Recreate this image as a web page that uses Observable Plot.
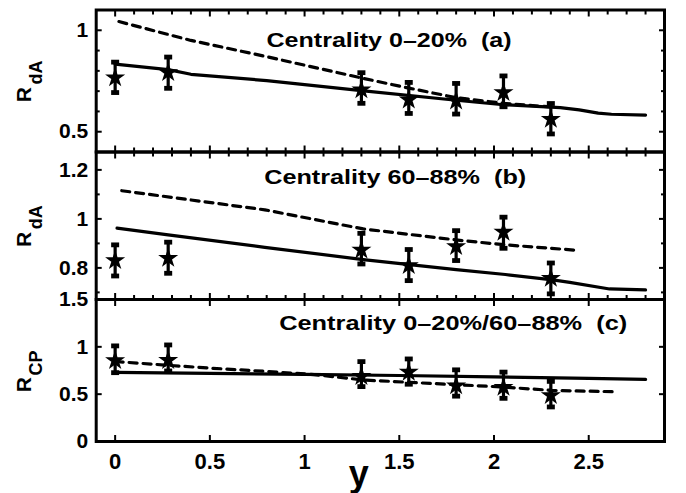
<!DOCTYPE html>
<html><head><meta charset="utf-8">
<script src="https://cdn.jsdelivr.net/npm/d3@7"></script>
<script src="https://cdn.jsdelivr.net/npm/@observablehq/plot@0.6"></script>
<style>
body{margin:0;background:#fff;}
#chart{position:relative;width:686px;height:493px;}
#chart svg{position:absolute;left:0;top:0;overflow:visible;}
</style></head><body><div id="chart"></div>
<script>
// ---- data ----
const rapidity = [0, 0.28, 1.3, 1.55, 1.8, 2.05, 2.3];

// (a) R_dA, centrality 0-20%
const rdaCentral      = [0.766, 0.792, 0.707, 0.657, 0.652, 0.693, 0.562];
const rdaCentralLow   = [0.693, 0.714, 0.640, 0.590, 0.587, 0.623, 0.489];
const rdaCentralHigh  = [0.843, 0.868, 0.791, 0.743, 0.738, 0.775, 0.639];
const solidAx = [0, 0.28, 0.4, 0.8, 1.3, 1.8, 2.05, 2.35, 2.45, 2.55, 2.62, 2.8];
const solidAy = [0.833, 0.806, 0.783, 0.752, 0.703, 0.655, 0.633, 0.619, 0.608, 0.592, 0.586, 0.582];
const dashAx  = [0.02, 0.4, 0.8, 1.3, 1.55, 1.8, 2.05, 2.3];
const dashAy  = [1.043, 0.950, 0.870, 0.765, 0.715, 0.668, 0.640, 0.622];

// (b) R_dA, centrality 60-88%
const rdaPeriph      = [0.830, 0.839, 0.873, 0.810, 0.887, 0.946, 0.758];
const rdaPeriphLow   = [0.767, 0.778, 0.816, 0.748, 0.830, 0.880, 0.694];
const rdaPeriphHigh  = [0.894, 0.905, 0.941, 0.875, 0.952, 1.007, 0.820];
const solidBx = [0.01, 0.28, 0.79, 1.31, 1.8, 2.06, 2.31, 2.4, 2.61, 2.8];
const solidBy = [0.962, 0.935, 0.884, 0.834, 0.793, 0.773, 0.751, 0.741, 0.714, 0.710];
const dashBx  = [0.035, 0.79, 1.31, 1.8, 2.06, 2.45];
const dashBy  = [1.115, 1.037, 0.959, 0.914, 0.894, 0.871];

// (c) R_CP, 0-20% / 60-88%
const rcp      = [0.855, 0.857, 0.688, 0.733, 0.590, 0.573, 0.486];
const rcpLow   = [0.727, 0.745, 0.580, 0.605, 0.479, 0.456, 0.365];
const rcpHigh  = [1.010, 1.020, 0.844, 0.872, 0.757, 0.733, 0.635];
const solidCx = [0, 0.5, 1, 1.5, 2, 2.5, 2.8];
const solidCy = [0.730, 0.720, 0.709, 0.697, 0.683, 0.667, 0.656];
const dashCx  = [0, 0.28, 0.5, 0.8, 1.05, 1.31, 1.55, 1.8, 2.05, 2.3, 2.65];
const dashCy  = [0.845, 0.805, 0.775, 0.740, 0.707, 0.650, 0.625, 0.600, 0.575, 0.540, 0.525];

// ticks and labels
const xMajorTicks = [0, 0.5, 1, 1.5, 2, 2.5];
const xMinorTicks = [0.1,0.2,0.3,0.4,0.6,0.7,0.8,0.9,1.1,1.2,1.3,1.4,1.6,1.7,1.8,1.9,2.1,2.2,2.3,2.4,2.6,2.7,2.8];
const yTicksA = [0.5, 1], yMinorA = [0.6, 0.7, 0.8, 0.9];
const yTicksB = [0.8, 1, 1.2], yMinorB = [0.7, 0.9, 1.1];
const yTicksC = [0, 0.5, 1, 1.5], yMinorC = [];
const titles = ["Centrality 0\u201320%\u00a0 (a)", "Centrality 60\u201388%\u00a0 (b)", "Centrality 0\u201320%/60\u201388%\u00a0 (c)"];

// ---- drawing ----
const W = 686, H = 493, ML = 95.7, MR = 22;
const capSymbol = {draw(ctx, size) { const s = Math.sqrt(size / Math.PI); ctx.rect(-s, -s * 0.6, 2 * s, 1.2 * s); }};
const pts = (xs, ys) => xs.map((x, i) => ({x, y: ys[i]}));
const obsOf = (v, lo, hi) => rapidity.map((x, i) => ({x, y: v[i], lo: lo[i], hi: hi[i]}));
const blank = () => "";

// inward ticks: an outward axis tick shifted back inside the frame by its own length
function inTicks(k, anchor, ticks, size) {
  const shift = anchor === "left" ? {dx: size} : anchor === "right" ? {dx: -size} : anchor === "top" ? {dy: size} : {dy: -size};
  const axis = k === "x" ? Plot.axisX : Plot.axisY;
  return axis(ticks, {anchor, tickSize: size, strokeWidth: 2, label: null, tickFormat: blank, ...shift});
}

function panel(o) {
  const obs = obsOf(o.v, o.lo, o.hi);
  const marks = [
    Plot.line(pts(o.sx, o.sy), {x: "x", y: "y", stroke: "black", strokeWidth: 3.2}),
    Plot.line(pts(o.dx, o.dy), {x: "x", y: "y", stroke: "black", strokeWidth: 3.2, strokeDasharray: "8,6"}),
    Plot.ruleX(obs, {x: "x", y1: "lo", y2: "hi", stroke: "black", strokeWidth: 3.2}),
    Plot.dot(obs, {x: "x", y: "lo", symbol: capSymbol, r: 4, fill: "black"}),
    Plot.dot(obs, {x: "x", y: "hi", symbol: capSymbol, r: 4, fill: "black"}),
    Plot.dot(obs, {x: "x", y: "y", symbol: "star", r: 6.3, fill: "black"}),
    // inward ticks on all four sides
    inTicks("y", "left", o.yTicks, 6), inTicks("y", "right", o.yTicks, 6),
    inTicks("x", "bottom", xMajorTicks, 6), inTicks("x", "top", xMajorTicks, 6),
    // tick labels
    Plot.axisY(o.yTicks, {anchor: "left", tickSize: 0, tickPadding: 8, fontSize: 21, label: null, tickFormat: d => `${d}`}),
    Plot.frame({stroke: "black", strokeWidth: 3}),
    Plot.text([o.title], {frameAnchor: "top-left", dx: o.tdx, dy: o.tdy, textAnchor: "start", lineAnchor: "bottom", fontSize: 21}),
    Plot.text(["R"], {frameAnchor: "left", rotate: -90, dx: -65.7, dy: o.rdy, textAnchor: "start", lineAnchor: "bottom", fontSize: 21}),
    Plot.text([o.sub], {frameAnchor: "left", rotate: -90, dx: -54, dy: o.sdy, textAnchor: "start", lineAnchor: "bottom", fontSize: 18})
  ];
  if (o.yMinor.length) {
    marks.push(inTicks("y", "left", o.yMinor, 4), inTicks("y", "right", o.yMinor, 4));
  }
  if (o.xMinor) {
    marks.push(inTicks("x", "bottom", xMinorTicks, 4), inTicks("x", "top", xMinorTicks, 4));
  }
  if (o.xLabels) {
    marks.push(Plot.axisX(xMajorTicks, {anchor: "bottom", tickSize: 0, tickPadding: 12, fontSize: 22, label: null, tickFormat: d => `${d}`}));
    marks.push(Plot.text(["y"], {frameAnchor: "bottom", dx: -21.5, dy: 44, textAnchor: "middle", lineAnchor: "bottom", fontSize: 36}));
  }
  const svg = Plot.plot({
    width: W, height: H,
    marginLeft: ML, marginRight: MR, marginTop: o.top, marginBottom: H - o.bottom,
    x: {domain: [-0.1, 2.9]},
    y: {domain: o.domain},
    style: {background: "transparent", fontFamily: "'Liberation Sans', Arial, Helvetica, sans-serif", fontWeight: "bold", color: "black", overflow: "visible"},
    marks
  });
  svg.querySelectorAll("text").forEach(t => {
    if (t.textContent.startsWith("Centrality")) {
      t.setAttribute("textLength", o.tlen);
      t.setAttribute("lengthAdjust", "spacingAndGlyphs");
    }
  });
  document.getElementById("chart").appendChild(svg);
}

panel({top: 9.5, bottom: 151.5, domain: [0.4, 1.1], yTicks: yTicksA, yMinor: yMinorA, xMinor: true, xLabels: false,
  v: rdaCentral, lo: rdaCentralLow, hi: rdaCentralHigh, sx: solidAx, sy: solidAy, dx: dashAx, dy: dashAy,
  title: titles[0], tdx: 170.3, tdy: 36.5, tlen: 245, sub: "dA", rdy: 21.2, sdy: 3.5});
panel({top: 151.5, bottom: 299, domain: [0.671, 1.273], yTicks: yTicksB, yMinor: yMinorB, xMinor: true, xLabels: false,
  v: rdaPeriph, lo: rdaPeriphLow, hi: rdaPeriphHigh, sx: solidBx, sy: solidBy, dx: dashBx, dy: dashBy,
  title: titles[1], tdx: 168, tdy: 31.8, tlen: 262, sub: "dA", rdy: 21.2, sdy: 3.5});
panel({top: 299, bottom: 441, domain: [0, 1.5], yTicks: yTicksC, yMinor: yMinorC, xMinor: false, xLabels: true,
  v: rcp, lo: rcpLow, hi: rcpHigh, sx: solidCx, sy: solidCy, dx: dashCx, dy: dashCy,
  title: titles[2], tdx: 183, tdy: 30.3, tlen: 348, sub: "CP", rdy: 21.7, sdy: 5});
</script></body></html>
